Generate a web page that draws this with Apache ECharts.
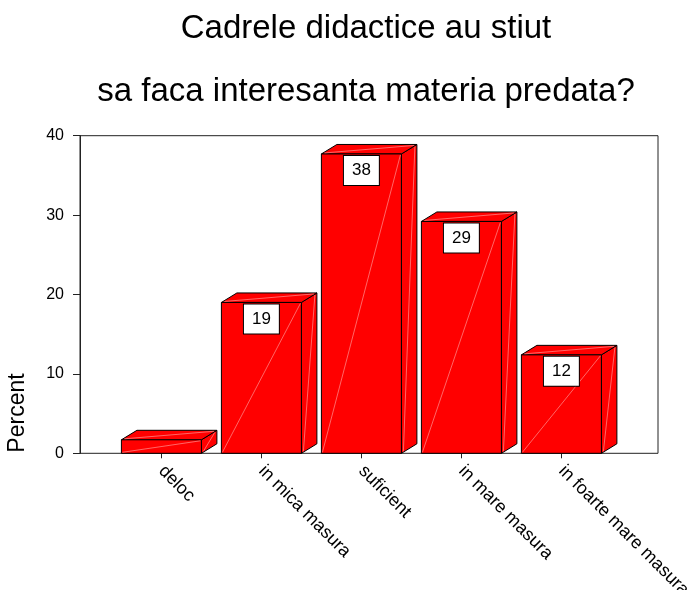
<!DOCTYPE html>
<html>
<head>
<meta charset="utf-8">
<script src="https://cdn.jsdelivr.net/npm/echarts@6/dist/echarts.min.js"></script>
<style>
  html, body { margin: 0; padding: 0; background: #fff; }
  #chart { width: 692px; height: 590px; }
</style>
</head>
<body>
<div id="chart"></div>
<script>
// ---- Data ----
const titleLines = ['Cadrele didactice au stiut', 'sa faca interesanta materia predata?'];
const yAxisTitle = 'Percent';
const categories = ['deloc', 'in mica masura', 'suficient', 'in mare masura', 'in foarte mare masura'];
const percentValues = [1.7, 19.0, 37.7, 29.2, 12.4];
const valueLabels = ['', '19', '38', '29', '12'];
const yTicks = { min: 0, max: 40, interval: 10 };

// ---- Chart ----
const FONT = '"Liberation Sans", Arial, sans-serif';
const chart = echarts.init(document.getElementById('chart'), null, { renderer: 'canvas' });

const DX = 15.5, DY = 9.5, BAR_RATIO = 0.8;
const RED = '#ff0000', EDGE = '#000000', SHEEN = 'rgba(255,190,190,0.9)';

function renderItem(params, api) {
  const i = api.value(0);
  const v = api.value(1);
  const top = api.coord([i, v]);
  const base = api.coord([i, 0]);
  const w = api.size([1, 0])[0] * BAR_RATIO;
  const x0 = top[0] - w / 2, x1 = top[0] + w / 2;
  const yT = top[1], yB = base[1];
  const faceStyle = { fill: RED, stroke: EDGE, lineWidth: 1 };
  const children = [
    { type: 'polygon', shape: { points: [[x1, yT], [x1 + DX, yT - DY], [x1 + DX, yB - DY], [x1, yB]] }, style: faceStyle },
    { type: 'polygon', shape: { points: [[x0, yT], [x0 + DX, yT - DY], [x1 + DX, yT - DY], [x1, yT]] }, style: faceStyle },
    { type: 'rect', shape: { x: x0, y: yT, width: w, height: yB - yT }, style: faceStyle },
    { type: 'line', shape: { x1: x0 + 1, y1: yB - 1, x2: x1 - 1, y2: yT + 1 }, style: { stroke: SHEEN, lineWidth: 0.6 } },
    { type: 'line', shape: { x1: x0 + 3, y1: yT - 1, x2: x1 + DX - 3, y2: yT - DY + 1 }, style: { stroke: SHEEN, lineWidth: 0.6 } },
    { type: 'line', shape: { x1: x1 + 2, y1: yB - 2, x2: x1 + DX - 2, y2: yT - DY + 2 }, style: { stroke: SHEEN, lineWidth: 0.6 } }
  ];
  const lbl = valueLabels[params.dataIndex];
  if (lbl) {
    children.push({
      type: 'text',
      x: top[0], y: yT + 2,
      style: {
        text: lbl, align: 'center', verticalAlign: 'top',
        font: '17px ' + FONT, fill: '#000',
        backgroundColor: '#fff', borderColor: '#000', borderWidth: 1,
        padding: [6, 8, 6, 8]
      }
    });
  }
  return { type: 'group', children: children };
}

const option = {
  animation: false,
  backgroundColor: '#fff',
  graphic: [
    { type: 'text', x: 366, y: 28.9, style: { text: titleLines[0], align: 'center', verticalAlign: 'middle', font: '33px ' + FONT, fill: '#000' } },
    { type: 'text', x: 366, y: 91.9, style: { text: titleLines[1], align: 'center', verticalAlign: 'middle', font: '33px ' + FONT, fill: '#000' } },
    { type: 'text', x: 18, y: 413, rotation: Math.PI / 2, style: { text: yAxisTitle, align: 'center', verticalAlign: 'middle', font: '23px ' + FONT, fill: '#000' } }
  ],
  grid: [
    { left: 80, right: 34, top: 135.7, bottom: 136.7, containLabel: false, outerBoundsMode: 'none', show: true, borderColor: '#222', borderWidth: 1, backgroundColor: 'transparent' },
    { left: 111.4, right: 80.6, top: 135.7, bottom: 136.7, containLabel: false, outerBoundsMode: 'none' }
  ],
  xAxis: [
    { gridIndex: 0, type: 'value', show: false, min: 0, max: 1 },
    {
      gridIndex: 1, type: 'category', data: categories,
      axisLine: { show: false },
      axisTick: { show: true, alignWithLabel: true, length: 5, lineStyle: { color: '#222', width: 1 } },
      axisLabel: { rotate: -45, margin: 15, fontSize: 18, fontFamily: FONT, color: '#000', interval: 0, hideOverlap: false },
      splitLine: { show: false }
    }
  ],
  yAxis: [
    {
      gridIndex: 0, type: 'value', min: yTicks.min, max: yTicks.max, interval: yTicks.interval,
      axisLine: { show: true, lineStyle: { color: '#222', width: 1 } },
      axisTick: { show: true, length: 7, lineStyle: { color: '#222', width: 1 } },
      axisLabel: { fontSize: 16, fontFamily: FONT, color: '#000', margin: 16 },
      splitLine: { show: false }
    },
    { gridIndex: 1, type: 'value', min: yTicks.min, max: yTicks.max, show: false }
  ],
  series: [
    {
      type: 'custom',
      xAxisIndex: 1, yAxisIndex: 1,
      renderItem: renderItem,
      clip: false,
      encode: { x: 0, y: 1 },
      data: percentValues.map((v, i) => [i, v])
    }
  ]
};
chart.setOption(option);
</script>
</body>
</html>
